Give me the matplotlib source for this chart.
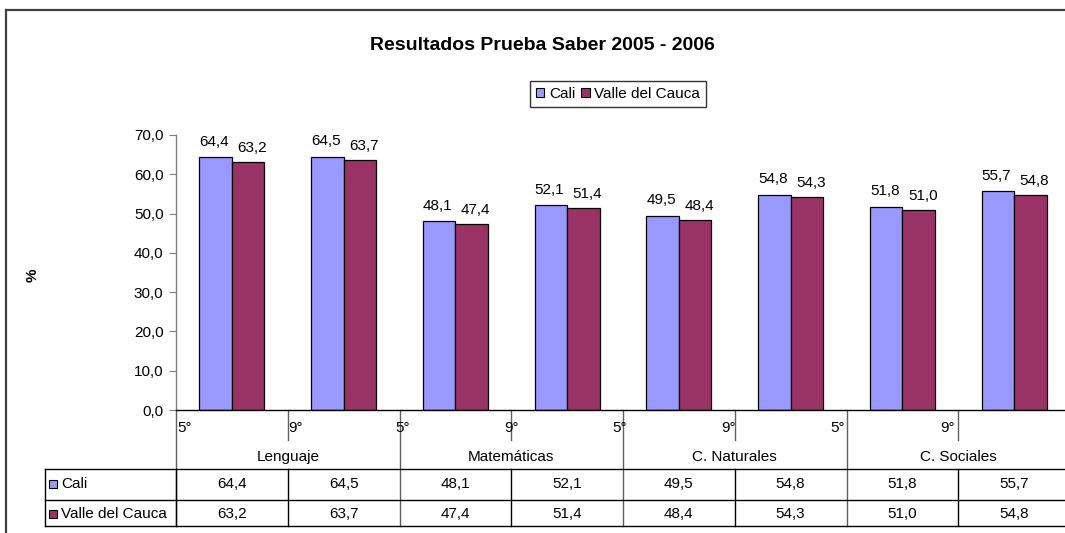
import matplotlib
matplotlib.use("Agg")
import matplotlib.pyplot as plt
from matplotlib.transforms import blended_transform_factory
from matplotlib.lines import Line2D
from matplotlib.patches import Patch, Rectangle
import numpy as np

plt.rcParams['font.family'] = ['Liberation Sans', 'DejaVu Sans']

subjects = ["Lenguaje", "Matemáticas", "C. Naturales", "C. Sociales"]
grades = ["5°", "9°"]
series_names = ["Cali", "Valle del Cauca"]
cali = [64.4, 64.5, 48.1, 52.1, 49.5, 54.8, 51.8, 55.7]
valle = [63.2, 63.7, 47.4, 51.4, 48.4, 54.3, 51.0, 54.8]
colors = ["#9999FF", "#993366"]
yticks = [0, 10, 20, 30, 40, 50, 60, 70]

W, H = 1065, 533
fig = plt.figure(figsize=(W / 100, H / 100), dpi=100)

def fx(px):
    return px / W

def fy(py):
    return 1 - py / H

ax_left, ax_right, ax_top, ax_bot = 176, 1070, 135, 410
ax = fig.add_axes([fx(ax_left), fy(ax_bot), fx(ax_right - ax_left), (ax_bot - ax_top) / H])

n = len(cali)
x = np.arange(n) + 0.5
bw = 0.29
ax.bar(x - bw / 2, cali, bw, color=colors[0], edgecolor="black", linewidth=0.9)
ax.bar(x + bw / 2, valle, bw, color=colors[1], edgecolor="black", linewidth=0.9)

for xi, v in zip(x - bw / 2, cali):
    ax.annotate(f"{v:.1f}".replace(".", ","), (xi, v), xytext=(-1, 6), textcoords="offset points",
                ha="center", va="bottom", fontsize=11)
for xi, v in zip(x + bw / 2, valle):
    ax.annotate(f"{v:.1f}".replace(".", ","), (xi, v), xytext=(3, 5), textcoords="offset points",
                ha="center", va="bottom", fontsize=11)

ax.set_xlim(0, n)
ax.set_ylim(0, 70)
ax.set_yticks(yticks)
ax.set_yticklabels([f"{t:.1f}".replace(".", ",") for t in yticks], fontsize=11)
ax.tick_params(axis="y", length=5, color="#808080", pad=4)
ax.set_xticks([])
for s in ["top", "right"]:
    ax.spines[s].set_visible(False)
ax.spines["left"].set_color("#808080")
ax.spines["left"].set_linewidth(1.0)
ax.spines["bottom"].set_color("black")
ax.spines["bottom"].set_linewidth(1.0)

tr = blended_transform_factory(ax.transData, fig.transFigure)

# category boundary lines below axis
for i in range(n + 1):
    if i % 2 == 0:
        ax.add_line(Line2D([i, i], [fy(410), fy(526)], transform=tr, color="#606060", lw=1.0, clip_on=False))
    else:
        ax.add_line(Line2D([i, i], [fy(410), fy(440)], transform=tr, color="#606060", lw=1.0, clip_on=False))
        ax.add_line(Line2D([i, i], [fy(469), fy(526)], transform=tr, color="black", lw=1.0, clip_on=False))

# grade labels (shifted as in the original rendering)
offsets_px = [9, 7.5, 3, 0, -3, -6, -8.5, -11]
cat_px = (ax_right - ax_left) / n
for i in range(n):
    ax.text(i + offsets_px[i] / cat_px, fy(428), grades[i % 2], transform=tr,
            ha="center", va="center", fontsize=11)

# subject labels
for j, s in enumerate(subjects):
    ax.text(2 * j + 1, fy(457), s, transform=tr, ha="center", va="center", fontsize=11)

# table horizontal lines
for py in [469, 500, 526]:
    fig.add_artist(Line2D([fx(45), fx(ax_right)], [fy(py), fy(py)], color="black", lw=1.0))
fig.add_artist(Line2D([fx(45), fx(45)], [fy(469), fy(526)], color="black", lw=1.0))
fig.add_artist(Line2D([fx(176), fx(176)], [fy(469), fy(526)], color="black", lw=1.0))

# table rows
for r, (name, vals, c, py) in enumerate(zip(series_names, [cali, valle], colors, [484, 514])):
    fig.add_artist(Rectangle((fx(49), fy(py) - 4 / H), 8 / W, 8 / H, facecolor=c,
                             edgecolor="black", lw=0.8))
    fig.text(fx(61), fy(py), name, ha="left", va="center", fontsize=11)
    for i, v in enumerate(vals):
        ax.text(i + 0.5, fy(py), f"{v:.1f}".replace(".", ","), transform=tr,
                ha="center", va="center", fontsize=11)

# y label
fig.text(fx(33), fy(275), "%", rotation=90, ha="center", va="center", fontsize=11, fontweight="bold")

# title
fig.text(fx(542), fy(46), "Resultados Prueba Saber 2005 - 2006", ha="center", va="center",
         fontsize=14, fontweight="bold")

# legend
handles = [Patch(facecolor=colors[0], edgecolor="black", lw=0.8),
           Patch(facecolor=colors[1], edgecolor="black", lw=0.8)]
leg = fig.legend(handles, series_names, loc="center", bbox_to_anchor=(fx(618), fy(94)),
                 ncol=2, fontsize=11, frameon=True, fancybox=False, edgecolor="black",
                 handlelength=0.55, handleheight=0.55, handletextpad=0.3, columnspacing=0.4,
                 borderpad=0.4, borderaxespad=0)
leg.get_frame().set_linewidth(1.0)

# outer frame
fig.add_artist(Line2D([fx(6), fx(6)], [fy(10), 0], color="#404040", lw=1.6))
fig.add_artist(Line2D([fx(6), 1.01], [fy(10), fy(10)], color="#404040", lw=1.6))

fig.savefig("out.png", dpi=100)
